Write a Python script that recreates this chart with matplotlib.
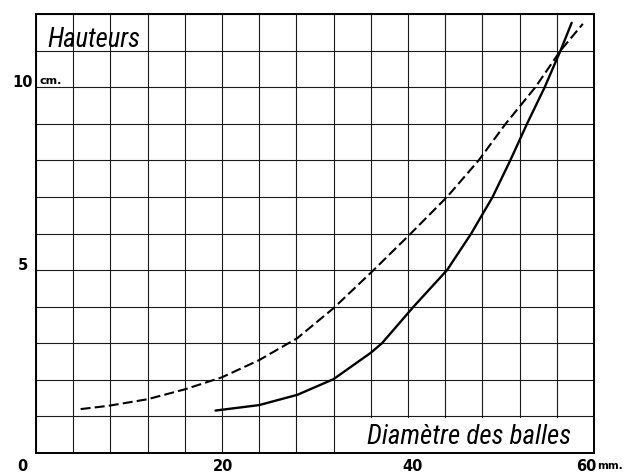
import matplotlib
matplotlib.use("Agg")
import matplotlib.pyplot as plt
from matplotlib import font_manager
from matplotlib.patches import Rectangle

# --- data (diameter in mm, height in cm) ---
dashed_x = [4.8, 7.8, 12.0, 16.0, 20.0, 24.0, 28.1, 32.0, 36.3, 40.3, 44.2, 47.6, 50.5, 53.7, 56.4, 58.8]
dashed_y = [1.20, 1.29, 1.47, 1.74, 2.07, 2.54, 3.14, 3.96, 5.0, 6.0, 7.0, 8.0, 9.0, 10.0, 11.0, 11.73]

solid_x = [19.3, 24.0, 28.1, 32.0, 36.0, 37.2, 40.6, 44.2, 46.8, 49.1, 51.0, 52.8, 54.7, 56.4, 57.6]
solid_y = [1.16, 1.31, 1.59, 2.02, 2.74, 3.0, 4.0, 5.0, 6.0, 7.0, 8.0, 9.0, 10.0, 11.0, 11.76]

x_grid = list(range(0, 61, 4))
y_grid = list(range(0, 13, 1))

x_tick_labels = ["0", "20", "40", "60"]
x_tick_pos = [-1.5, 20.1, 40.5, 59.2]
y_tick_labels = ["10", "5"]
y_tick_pos = [10, 5]

# pick a condensed family if one is installed
names = {(f.name, str(f.stretch)) for f in font_manager.fontManager.ttflist}
cond_family, cond_stretch = "DejaVu Sans", "normal"
for fam in ["Liberation Sans Narrow", "Roboto Condensed", "Open Sans Condensed",
            "DejaVu Sans Condensed"]:
    if any(n == fam for n, _ in names):
        cond_family, cond_stretch = fam, "normal"
        break
else:
    if any(n == "DejaVu Sans" and s in ("condensed", "semi-condensed", "600", "500", "700")
           for n, s in names):
        cond_family, cond_stretch = "DejaVu Sans", "condensed"

fig = plt.figure(figsize=(6.31, 4.74), dpi=100)
ax = fig.add_axes([36 / 631, 21 / 474, 558 / 631, 439 / 474])
ax.set_xlim(0, 60)
ax.set_ylim(0, 12)

ax.set_xticks(x_grid)
ax.set_yticks(y_grid)
ax.tick_params(length=0, labelbottom=False, labelleft=False)
ax.grid(True, color="#1a1a1a", linewidth=0.8)
ax.set_axisbelow(True)
for s in ax.spines.values():
    s.set_linewidth(1.4)
    s.set_color("black")

# blank box behind the x-axis title (grid interrupted there)
ax.add_patch(Rectangle((32.3, 0.0), 27.7, 0.97, facecolor="white",
                       edgecolor="none", zorder=1))

ax.plot(dashed_x, dashed_y, color="black", linewidth=1.5, dashes=(4.8, 2.0), zorder=3)
ax.plot(solid_x, solid_y, color="black", linewidth=1.7, solid_capstyle="round", zorder=3)

# axis labels
for lab, pos in zip(x_tick_labels, x_tick_pos):
    ax.text(pos, -0.36, lab, ha="center", va="center", fontsize=10.5,
            fontweight="bold", clip_on=False)
ax.text(60.3, -0.36, "mm.", ha="left", va="center", fontsize=7.5,
        fontweight="bold", clip_on=False)
for lab, pos in zip(y_tick_labels, y_tick_pos):
    ax.text(-1.4, pos + 0.13, lab, ha="center", va="center", fontsize=10.5,
            fontweight="bold", clip_on=False)
ax.text(0.4, 10.04, "cm.", ha="left", va="bottom", fontsize=8, fontweight="bold")

t1 = ax.text(1.2, 11.3, "Hauteurs", ha="left", va="center", fontsize=20,
             style="italic", family=cond_family, stretch=cond_stretch, zorder=4)
t2 = ax.text(35.6, 0.45, "Diamètre des balles", ha="left", va="center", fontsize=20,
             style="italic", family=cond_family, stretch=cond_stretch, zorder=4)

# fit the two titles to their widths in the reference
fig.canvas.draw()
r = fig.canvas.get_renderer()
for t, target in [(t1, 93.0), (t2, 204.0)]:
    w = t.get_window_extent(r).width
    t.set_fontsize(20 * target / w)

fig.savefig("out.png", dpi=100)
